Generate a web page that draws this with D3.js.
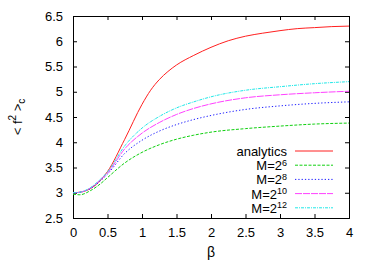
<!DOCTYPE html>
<html>
<head>
<meta charset="utf-8">
<script src="https://cdn.jsdelivr.net/npm/d3@7"></script>
<style>
  body { margin: 0; background: #fff; }
  text { font-family: "Liberation Sans", Arial, sans-serif; }
</style>
</head>
<body>
<div id="chart"></div>
<script>
// beta values (x) and series
const betaA = [0, 0.1, 0.25, 0.4, 0.5, 0.75, 1.0, 1.125, 1.25, 1.375, 1.5, 1.75, 2.0, 2.25, 2.5, 2.75, 3.0, 3.25, 3.5, 3.75, 4.0];
const analytics = [3.00, 3.01, 3.08, 3.25, 3.42, 4.06, 4.75, 5.03, 5.24, 5.40, 5.53, 5.72, 5.88, 6.01, 6.10, 6.16, 6.21, 6.25, 6.27, 6.29, 6.30];

const betaM = [0, 0.1, 0.25, 0.4, 0.5, 0.75, 1.0, 1.25, 1.5, 1.75, 2.0, 2.5, 3.0, 3.5, 4.0];
const m6  = [2.97, 2.96, 3.04, 3.18, 3.30, 3.59, 3.80, 3.95, 4.06, 4.14, 4.20, 4.27, 4.32, 4.36, 4.38];
const m8  = [3.00, 3.01, 3.08, 3.24, 3.37, 3.78, 4.04, 4.22, 4.35, 4.45, 4.53, 4.65, 4.72, 4.77, 4.80];
const m10 = [3.00, 3.01, 3.09, 3.26, 3.39, 3.87, 4.18, 4.39, 4.55, 4.67, 4.76, 4.88, 4.94, 4.98, 5.01];
const m12 = [3.00, 3.01, 3.10, 3.27, 3.41, 3.93, 4.28, 4.51, 4.68, 4.80, 4.90, 5.03, 5.10, 5.16, 5.20];

const xTicks = [0, 0.5, 1, 1.5, 2, 2.5, 3, 3.5, 4];
const yTicks = [2.5, 3, 3.5, 4, 4.5, 5, 5.5, 6, 6.5];

const seriesNames = ["analytics", "6", "8", "10", "12"];
const seriesColors = ["#ff2020", "#10d010", "#2020ff", "#ff40ff", "#20e8e8"];
const seriesDash = [null, "3,1.5", "1.3,2", "7,1", "3,1,1,1"];

const width = 374, height = 261;
const margin = { top: 16, right: 25, bottom: 43, left: 73 };
const w = width - margin.left - margin.right;
const h = height - margin.top - margin.bottom;

const svg = d3.select("#chart").append("svg")
    .attr("width", width)
    .attr("height", height);

const g = svg.append("g")
    .attr("transform", `translate(${margin.left},${margin.top})`);

const x = d3.scaleLinear().domain([0, 4]).range([0, w]);
const y = d3.scaleLinear().domain([2.5, 6.5]).range([h, 0]);

// axes with inward ticks, mirrored on top/right
const fmt = d => String(d);
g.append("g")
    .attr("transform", `translate(0,${h})`)
    .call(d3.axisBottom(x).tickValues(xTicks).tickSize(-4).tickPadding(10).tickFormat(fmt));
g.append("g")
    .call(d3.axisLeft(y).tickValues(yTicks).tickSize(-4).tickPadding(10).tickFormat(fmt));
g.append("g")
    .call(d3.axisTop(x).tickValues(xTicks).tickSize(-4).tickFormat(""));
g.append("g")
    .attr("transform", `translate(${w},0)`)
    .call(d3.axisRight(y).tickValues(yTicks).tickSize(-4).tickFormat(""));

g.selectAll(".domain").attr("stroke", "#000");
g.selectAll(".tick line").attr("stroke", "#000");
g.selectAll(".tick text")
    .attr("fill", "#000")
    .style("font-size", "13px")
    .style("font-family", "Liberation Sans, Arial, sans-serif");

// series lines
const line = d3.line()
    .x(d => x(d[0]))
    .y(d => y(d[1]))
    .curve(d3.curveMonotoneX);

const seriesData = [
    d3.zip(betaA, analytics),
    d3.zip(betaM, m6),
    d3.zip(betaM, m8),
    d3.zip(betaM, m10),
    d3.zip(betaM, m12)
];

seriesData.forEach(function(data, i){
    g.append("path")
        .datum(data)
        .attr("fill", "none")
        .attr("stroke", seriesColors[i])
        .attr("stroke-width", 1)
        .attr("stroke-dasharray", seriesDash[i])
        .attr("d", line);
});

// legend
const legend = g.append("g")
    .attr("transform", `translate(${287 - margin.left},${151 - margin.top})`);

seriesNames.forEach(function(name, i){
    const row = legend.append("g").attr("transform", `translate(0,${i * 14.2})`);
    const t = row.append("text")
        .attr("text-anchor", "end")
        .attr("y", 5)
        .style("font-size", "13px")
        .attr("fill", "#000");
    if (i === 0) {
        t.text(name);
    } else {
        t.append("tspan").text("M=2");
        t.append("tspan")
            .attr("dy", -4.5)
            .style("font-size", "9px")
            .text(name);
    }
    row.append("line")
        .attr("x1", 8).attr("x2", 46)
        .attr("y1", 0).attr("y2", 0)
        .attr("stroke", seriesColors[i])
        .attr("stroke-width", 1)
        .attr("stroke-dasharray", seriesDash[i]);
});

// axis labels
svg.append("text")
    .attr("x", margin.left + w / 2)
    .attr("y", 257)
    .attr("text-anchor", "middle")
    .style("font-size", "14px")
    .text("β");

const yl = svg.append("text")
    .attr("transform", "translate(22,117) rotate(-90)")
    .attr("text-anchor", "middle")
    .style("font-size", "13px");
yl.append("tspan").text("< f");
yl.append("tspan").attr("dy", -6).style("font-size", "10px").text("2");
yl.append("tspan").attr("dy", 6).text(" >");
yl.append("tspan").attr("dy", 3).style("font-size", "10px").text("c");
</script>
</body>
</html>
